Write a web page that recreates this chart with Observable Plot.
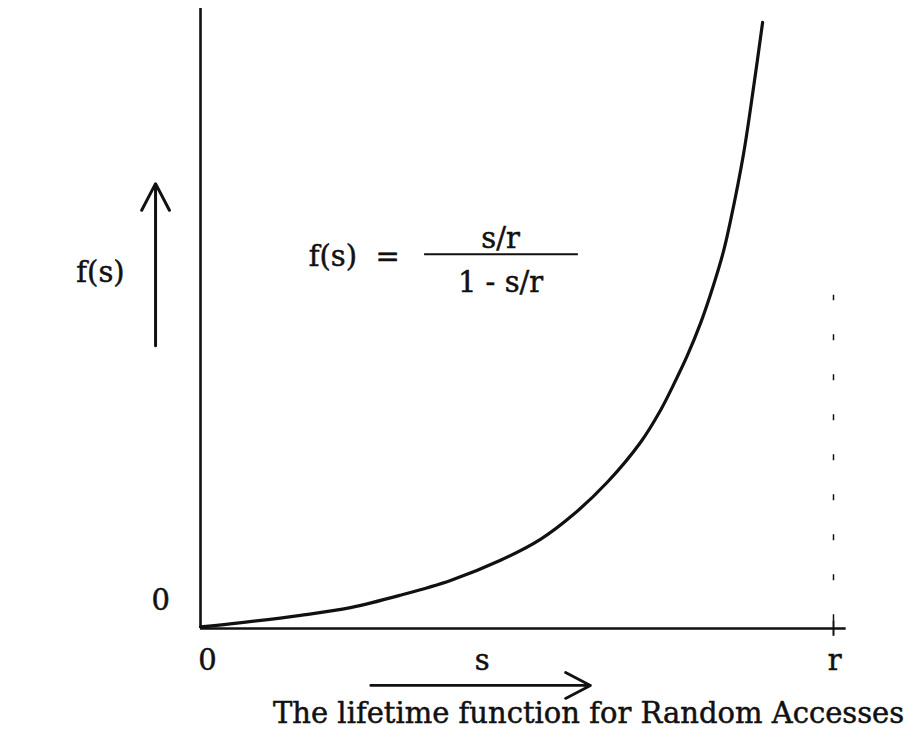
<!DOCTYPE html>
<html>
<head>
<meta charset="utf-8">
<script src="https://cdn.jsdelivr.net/npm/d3@7"></script>
<script src="https://cdn.jsdelivr.net/npm/@observablehq/plot@0.6"></script>
<style>
  html, body { margin: 0; padding: 0; background: #fff; }
  #chart svg { display: block; }
</style>
</head>
<body>
<div id="chart"></div>
<script>
// Position s as a fraction of r, and the lifetime f(s) at that position
const sValues = [0, 0.047, 0.158, 0.237, 0.316, 0.395, 0.474, 0.537, 0.589, 0.643, 0.695,
                 0.727, 0.747, 0.769, 0.790, 0.810, 0.826, 0.837, 0.858, 0.874, 0.888];
const fValues = [0.02, 0.06, 0.17, 0.27, 0.43, 0.62, 0.88, 1.15, 1.47, 1.89, 2.40,
                 2.82, 3.14, 3.52, 3.94, 4.42, 4.86, 5.25, 6.13, 7.00, 7.82];

// Axis labels
const xTickLabels = ["0", "r"];
const xTickValues = [0, 1];
const yTickLabels = ["0"];
const xName = "s";
const yName = "f(s)";
const formulaLeft = "f(s)  =";
const formulaNum = "s/r";
const formulaDen = "1 - s/r";
const caption = "The lifetime function for Random Accesses";

const curve = sValues.map((s, i) => ({s, f: fValues[i]}));
const ink = "#111";
const fs = 29;
const textStyle = {fontSize: fs, fill: ink, stroke: ink, strokeWidth: 0.5};

const chart = Plot.plot({
  width: 918,
  height: 742,
  marginLeft: 200,
  marginRight: 85,
  marginTop: 8,
  marginBottom: 114,
  x: {domain: [0, 1], axis: null},
  y: {domain: [0, 8], axis: null},
  style: {fontFamily: "'DejaVu Serif', serif", background: "#fff", color: ink},
  marks: [
    // axes
    Plot.ruleX([0], {y1: 0, y2: 8, stroke: ink, strokeWidth: 2.6}),
    Plot.ruleY([0], {x1: 0, x2: 1.02, stroke: ink, strokeWidth: 2.6}),
    // tick at r and dashed asymptote
    Plot.ruleX([1], {y1: -0.1, y2: 0.1, stroke: ink, strokeWidth: 2}),
    Plot.ruleX([1], {y1: 0.1, y2: 4.3, stroke: ink, strokeWidth: 1.5, strokeDasharray: "6,34"}),
    // the lifetime curve
    Plot.line(curve, {x: "s", y: "f", curve: "catmull-rom", stroke: ink, strokeWidth: 3.2}),
    // tick labels
    Plot.text(xTickValues, {x: (d, i) => d + (i === 0 ? 0.011 : 0.002), y: -0.41,
      text: (d, i) => xTickLabels[i], ...textStyle}),
    Plot.text(yTickLabels, {x: -0.063, y: 0.36, text: d => d, ...textStyle}),
    // axis names with direction arrows
    Plot.text([xName], {x: 0.445, y: -0.41, text: d => d, ...textStyle}),
    Plot.text([yName], {x: -0.158, y: 4.59, text: d => d, ...textStyle}),
    Plot.arrow([{x1: 0.269, y1: -0.735, x2: 0.616, y2: -0.735}], {
      x1: "x1", y1: "y1", x2: "x2", y2: "y2", stroke: ink, strokeWidth: 2.8,
      headLength: 15, headAngle: 55, bend: 0}),
    Plot.arrow([{x1: -0.071, y1: 3.65, x2: -0.071, y2: 5.74}], {
      x1: "x1", y1: "y1", x2: "x2", y2: "y2", stroke: ink, strokeWidth: 3,
      headLength: 15, headAngle: 55, bend: 0}),
    // formula
    Plot.text([formulaLeft], {x: 0.171, y: 4.8, text: d => d, textAnchor: "start", ...textStyle}),
    Plot.ruleY([4.83], {x1: 0.354, x2: 0.597, stroke: ink, strokeWidth: 2}),
    Plot.text([formulaNum], {x: 0.474, y: 5.03, text: d => d, ...textStyle}),
    Plot.text([formulaDen], {x: 0.474, y: 4.46, text: d => d, ...textStyle}),
    // caption
    Plot.text([caption], {x: 0.613, y: -1.1, text: d => d, ...textStyle})
  ]
});
document.getElementById("chart").append(chart);
</script>
</body>
</html>
